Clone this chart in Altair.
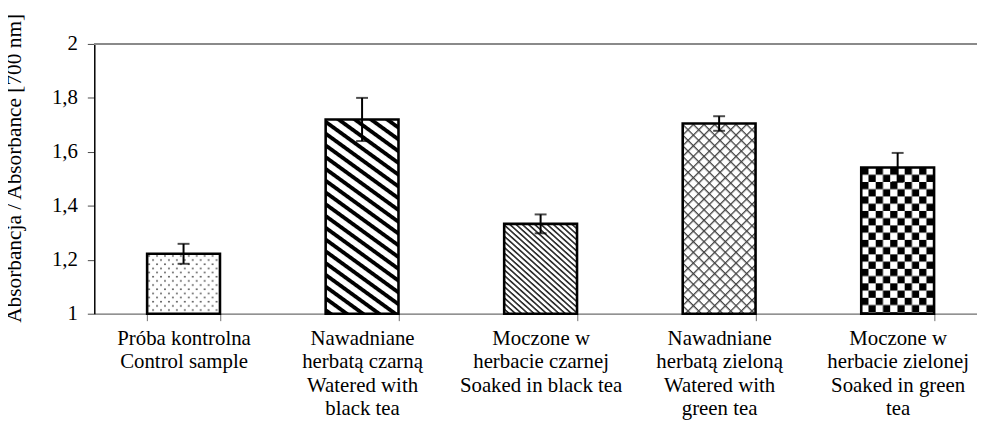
import base64
import altair as alt
import pandas as pd

# ---- data ----
categories = [
    "Próba kontrolna|Control sample",
    "Nawadniane|herbatą czarną|Watered with|black tea",
    "Moczone w|herbacie czarnej|Soaked in black tea",
    "Nawadniane|herbatą zieloną|Watered with|green tea",
    "Moczone w|herbacie zielonej|Soaked in green|tea",
]
means = [1.222, 1.72, 1.333, 1.705, 1.542]
errors = [0.037, 0.08, 0.035, 0.027, 0.054]
pattern_names = ["dots", "wide_diag", "narrow_diag", "crosshatch", "checker"]
y_ticks = [1, 1.2, 1.4, 1.6, 1.8, 2]

# ---- fill patterns (style) ----
PATTERN_DEFS = {
    "dots": '<pattern id="p" patternUnits="userSpaceOnUse" width="8" height="8.4">'
            '<circle cx="2" cy="2" r="0.95" fill="#505050"/>'
            '<circle cx="6" cy="6.2" r="0.95" fill="#505050"/></pattern>',
    "wide_diag": '<pattern id="p" patternUnits="userSpaceOnUse" width="10" height="9.6" '
                 'patternTransform="rotate(36)"><rect x="0" y="0" width="10" height="3.9" fill="#000"/></pattern>',
    "narrow_diag": '<pattern id="p" patternUnits="userSpaceOnUse" width="10" height="4.2" '
                   'patternTransform="rotate(42)"><rect x="0" y="0" width="10" height="1.6" fill="#262626"/></pattern>',
    "crosshatch": '<pattern id="p" patternUnits="userSpaceOnUse" width="7.6" height="7.6" '
                  'patternTransform="rotate(45)"><rect x="0" y="0" width="1.3" height="7.6" fill="#404040"/>'
                  '<rect x="0" y="0" width="7.6" height="1.3" fill="#404040"/></pattern>',
    "checker": '<pattern id="p" patternUnits="userSpaceOnUse" width="14.6" height="14.6">'
               '<rect x="0" y="0" width="7.3" height="7.3" fill="#000"/>'
               '<rect x="7.3" y="7.3" width="7.3" height="7.3" fill="#000"/></pattern>',
}


def pattern_uri(name):
    svg = ('<svg xmlns="http://www.w3.org/2000/svg" width="100%" height="100%">'
           '<defs>' + PATTERN_DEFS[name] + '</defs>'
           '<rect width="100%" height="100%" fill="#ffffff"/>'
           '<rect width="100%" height="100%" fill="url(#p)"/></svg>')
    return "data:image/svg+xml;base64," + base64.b64encode(svg.encode("utf-8")).decode("ascii")


df = pd.DataFrame({
    "category": categories,
    "mean": means,
    "err": errors,
    "pattern": pattern_names,
})
df["lo"] = df["mean"] - df["err"]
df["hi"] = df["mean"] + df["err"]
df["base"] = 1.0
df["url"] = [pattern_uri(p) for p in pattern_names]

FONT = "Liberation Serif"

x_enc = alt.X(
    "category:N",
    sort=categories,
    title=None,
    scale=alt.Scale(range=[0, 900], paddingInner=0.592, paddingOuter=0.296),
    axis=alt.Axis(
        labelExpr="split(datum.label, '|')",
        labelAngle=0,
        labelFont=FONT,
        labelFontSize=21,
        labelLineHeight=23.5,
        labelColor="black",
        labelPadding=7,
        labelLimit=0,
        labelOverlap=False,
        labelBound=False,
        tickBand="extent",
        tickColor="#6e6e6e",
        tickSize=7,
        tickWidth=1,
        domainColor="#6e6e6e",
        domainWidth=1.3,
        grid=False,
    ),
)

y_scale = alt.Scale(domain=[1, 2], nice=False, zero=False)
y_axis = alt.Axis(
    values=y_ticks,
    labelExpr="replace(format(datum.value, '.1~f'), '.', ',')",
    labelFont=FONT,
    labelFontSize=21,
    labelColor="black",
    labelPadding=10,
    tickColor="#4a4a4a",
    tickSize=7,
    tickWidth=1,
    domainColor="black",
    domainWidth=1.5,
    grid=False,
    title="Absorbancja / Absorbance [700 nm]",
    titleFont=FONT,
    titleFontSize=21.5,
    titleFontWeight="normal",
    titleColor="black",
    titleAngle=270,
    titleAlign="center",
    titleBaseline="middle",
    titleX=-80,
    titleY=125,
)

base = alt.Chart(df)

fill = base.mark_bar(color="white").encode(
    x=x_enc, y=alt.Y("mean:Q", scale=y_scale, axis=y_axis), y2="base:Q"
)
texture = base.mark_image(aspect=False).encode(
    x=x_enc, y=alt.Y("mean:Q", scale=y_scale), y2="base:Q", url="url:N"
)
outline = base.mark_bar(fillOpacity=0, stroke="black", strokeWidth=2.6).encode(
    x=x_enc, y=alt.Y("mean:Q", scale=y_scale), y2="base:Q"
)
err_line = base.mark_rule(color="black", strokeWidth=2).encode(
    x=x_enc, y=alt.Y("lo:Q", scale=y_scale), y2="hi:Q"
)
cap_hi = base.mark_tick(color="black", size=12, thickness=2).encode(
    x=x_enc, y=alt.Y("hi:Q", scale=y_scale)
)
cap_lo = base.mark_tick(color="black", size=12, thickness=2).encode(
    x=x_enc, y=alt.Y("lo:Q", scale=y_scale)
)
top_line = alt.Chart(df).mark_rule(color="#8a8a8a", strokeWidth=2).encode(
    y=alt.datum(2, scale=y_scale)
)

chart = (
    alt.layer(top_line, fill, texture, outline, err_line, cap_hi, cap_lo)
    .properties(
        width=890,
        height=272,
        autosize=alt.AutoSizeParams(type="none"),
        padding={"left": 87, "top": 34.5, "right": 0, "bottom": 112},
        background="white",
    )
    .configure_view(stroke=None)
)

chart.save("out.html", embed_options={"renderer": "svg", "actions": False})
